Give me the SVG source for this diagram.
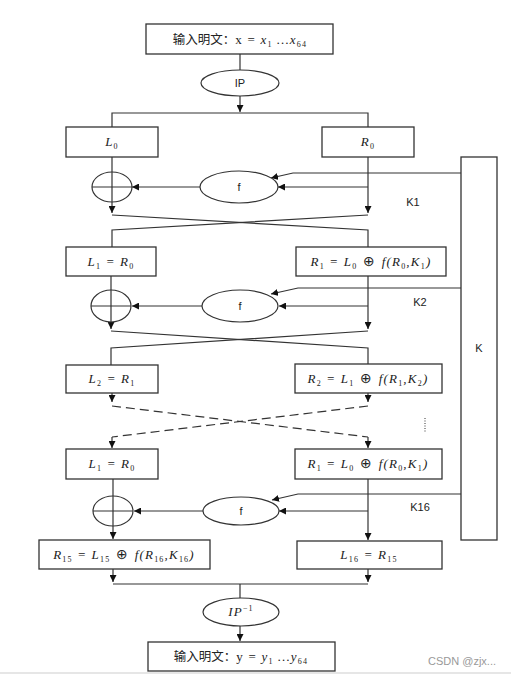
<svg xmlns="http://www.w3.org/2000/svg" width="511" height="676" viewBox="0 0 511 676">
<defs>
<marker id="ah" viewBox="0 0 8 8" refX="8" refY="4" markerWidth="7" markerHeight="7" markerUnits="userSpaceOnUse" orient="auto"><path d="M0,0 L8,4 L0,8 z" fill="#111"/></marker>
<style>
.b{fill:#fff;stroke:#333;stroke-width:1.3}
.e{fill:#fff;stroke:#333;stroke-width:1.2}
.x{fill:none;stroke:#333;stroke-width:1.2}
.c{fill:none;stroke:#333;stroke-width:1.2}
.a{marker-end:url(#ah)}
.d{stroke-dasharray:9,5}
.m{font-family:"Liberation Serif","DejaVu Serif",serif;font-style:italic;font-size:13px;fill:#222;text-anchor:middle;letter-spacing:1.2px}
.s{font-family:"Liberation Sans",Arial,sans-serif;font-size:11px;fill:#222;text-anchor:middle}
.z{font-size:8px;font-style:normal}
.u{font-style:normal}
.o{font-family:"DejaVu Sans",sans-serif;font-style:normal;font-size:14px}
.cj{font-family:"Noto Sans CJK SC","Liberation Sans",sans-serif;font-style:normal;font-size:12.5px;letter-spacing:0}
</style>
</defs>
<rect width="511" height="676" fill="#fff"/>
<line x1="0" y1="673" x2="511" y2="673" stroke="#e6e6e6" stroke-width="2"/>

<g id="connectors">
<line class="c" x1="240" y1="54" x2="240" y2="70"/>
<line class="c a" x1="240" y1="96" x2="240" y2="112"/>
<polyline class="c" points="112,127 112,113 368,113 368,127"/>
<line class="c a" x1="112" y1="157" x2="112" y2="213"/>
<line class="c a" x1="368" y1="157" x2="368" y2="213"/>
<line class="c a" x1="368" y1="187" x2="278" y2="187"/>
<line class="c a" x1="200" y1="187" x2="132" y2="187"/>
<polyline class="c a" points="461,173 293,173 271,178"/>
<polyline class="c" points="112,215 368,230 368,247"/>
<polyline class="c" points="368,215 112,230 112,247"/>

<line class="c a" x1="111" y1="276" x2="111" y2="329"/>
<line class="c a" x1="368" y1="276" x2="368" y2="329"/>
<line class="c a" x1="368" y1="306" x2="279" y2="306"/>
<line class="c a" x1="202" y1="306" x2="132" y2="306"/>
<polyline class="c a" points="461,288 298,288 271,294"/>
<polyline class="c" points="111,331 368,348 368,365"/>
<polyline class="c" points="368,331 111,348 111,365"/>

<line class="c a" x1="112" y1="393" x2="112" y2="402"/>
<line class="c a" x1="368" y1="393" x2="368" y2="402"/>
<polyline class="c d" points="112,406 368,437"/>
<polyline class="c d" points="368,406 112,437"/>
<line class="c a" x1="112" y1="437" x2="112" y2="448"/>
<line class="c a" x1="368" y1="437" x2="368" y2="448"/>
<line x1="425" y1="418" x2="425" y2="433" stroke="#333" stroke-width="1" stroke-dasharray="1,1.5"/>

<line class="c a" x1="113" y1="479" x2="113" y2="539"/>
<line class="c a" x1="368" y1="479" x2="368" y2="540"/>
<line class="c a" x1="368" y1="511" x2="279" y2="511"/>
<line class="c a" x1="203" y1="511" x2="134" y2="511"/>
<polyline class="c a" points="461,494 298,494 272,500"/>

<line class="c a" x1="113" y1="569" x2="113" y2="582"/>
<line class="c a" x1="368" y1="569" x2="368" y2="582"/>
<line class="c" x1="113" y1="584" x2="368" y2="584"/>
<line class="c" x1="240" y1="584" x2="240" y2="598"/>
<line class="c a" x1="240" y1="626" x2="240" y2="641"/>
</g>

<g id="input">
<rect class="b" x="146" y="24" width="187" height="30"/>
<text class="m" x="240" y="44"><tspan class="cj">输入明文：</tspan><tspan class="u">x = </tspan>x<tspan class="z" dy="3">1</tspan><tspan dy="-3"> …x</tspan><tspan class="z" dy="3">64</tspan></text>
</g>
<g id="ip">
<ellipse class="e" cx="240" cy="83" rx="39" ry="13"/>
<text class="s" x="240" y="87">IP</text>
</g>
<g id="L0">
<rect class="b" x="66" y="127" width="92" height="30"/>
<text class="m" x="112" y="146">L<tspan class="z" dy="3">0</tspan></text>
</g>
<g id="R0">
<rect class="b" x="322" y="127" width="92" height="30"/>
<text class="m" x="368" y="146">R<tspan class="z" dy="3">0</tspan></text>
</g>
<g id="xor1">
<ellipse class="x" cx="112" cy="187" rx="20" ry="15"/>
<line class="x" x1="92" y1="187" x2="132" y2="187"/>
</g>
<g id="f1">
<ellipse class="e" cx="239" cy="187" rx="39" ry="16"/>
<text class="s" x="239" y="191">f</text>
</g>
<g id="K"><rect class="b" x="461" y="157" width="36" height="383"/>
<text class="s" x="479" y="352">K</text></g>
<text class="s" x="413" y="206">K1</text>

<g id="L1">
<rect class="b" x="66" y="247" width="90" height="29"/>
<text class="m" x="111" y="266">L<tspan class="z" dy="3">1</tspan><tspan dy="-3"> = R</tspan><tspan class="z" dy="3">0</tspan></text>
</g>
<g id="R1">
<rect class="b" x="296" y="247" width="150" height="29"/>
<text class="m" x="371" y="266">R<tspan class="z" dy="3">1</tspan><tspan dy="-3"> = L</tspan><tspan class="z" dy="3">0</tspan><tspan dy="-3" class="o"> ⊕ </tspan><tspan>f(R</tspan><tspan class="z" dy="3">0</tspan><tspan dy="-3">,K</tspan><tspan class="z" dy="3">1</tspan><tspan dy="-3">)</tspan></text>
</g>
<g id="xor2">
<ellipse class="x" cx="111" cy="306" rx="20" ry="16"/>
<line class="x" x1="91" y1="306" x2="131" y2="306"/>
</g>
<g id="f2">
<ellipse class="e" cx="240" cy="306" rx="38" ry="16"/>
<text class="s" x="240" y="310">f</text>
</g>
<text class="s" x="420" y="306">K2</text>

<g id="L2">
<rect class="b" x="66" y="365" width="92" height="28"/>
<text class="m" x="112" y="383">L<tspan class="z" dy="3">2</tspan><tspan dy="-3"> = R</tspan><tspan class="z" dy="3">1</tspan></text>
</g>
<g id="R2">
<rect class="b" x="295" y="364" width="147" height="29"/>
<text class="m" x="368" y="383">R<tspan class="z" dy="3">2</tspan><tspan dy="-3"> = L</tspan><tspan class="z" dy="3">1</tspan><tspan dy="-3" class="o"> ⊕ </tspan><tspan>f(R</tspan><tspan class="z" dy="3">1</tspan><tspan dy="-3">,K</tspan><tspan class="z" dy="3">2</tspan><tspan dy="-3">)</tspan></text>
</g>

<g id="L1b">
<rect class="b" x="66" y="449" width="92" height="30"/>
<text class="m" x="112" y="468">L<tspan class="z" dy="3">1</tspan><tspan dy="-3"> = R</tspan><tspan class="z" dy="3">0</tspan></text>
</g>
<g id="R1b">
<rect class="b" x="295" y="449" width="147" height="30"/>
<text class="m" x="368" y="468">R<tspan class="z" dy="3">1</tspan><tspan dy="-3"> = L</tspan><tspan class="z" dy="3">0</tspan><tspan dy="-3" class="o"> ⊕ </tspan><tspan>f(R</tspan><tspan class="z" dy="3">0</tspan><tspan dy="-3">,K</tspan><tspan class="z" dy="3">1</tspan><tspan dy="-3">)</tspan></text>
</g>
<g id="xor3">
<ellipse class="x" cx="113" cy="511" rx="20" ry="15"/>
<line class="x" x1="93" y1="511" x2="133" y2="511"/>
</g>
<g id="f3">
<ellipse class="e" cx="241" cy="511" rx="38" ry="14"/>
<text class="s" x="241" y="515">f</text>
</g>
<text class="s" x="420" y="511">K16</text>

<g id="R15">
<rect class="b" x="39" y="540" width="171" height="29"/>
<text class="m" x="124" y="559">R<tspan class="z" dy="3">15</tspan><tspan dy="-3"> = L</tspan><tspan class="z" dy="3">15</tspan><tspan dy="-3" class="o"> ⊕ </tspan><tspan>f(R</tspan><tspan class="z" dy="3">16</tspan><tspan dy="-3">,K</tspan><tspan class="z" dy="3">16</tspan><tspan dy="-3">)</tspan></text>
</g>
<g id="L16">
<rect class="b" x="297" y="541" width="145" height="28"/>
<text class="m" x="369" y="559">L<tspan class="z" dy="3">16</tspan><tspan dy="-3"> = R</tspan><tspan class="z" dy="3">15</tspan></text>
</g>
<g id="ipinv">
<ellipse class="e" cx="241" cy="612" rx="38" ry="14"/>
<text class="m" x="241" y="616">IP<tspan class="z" dy="-5">−1</tspan></text>
</g>
<g id="output">
<rect class="b" x="148" y="642" width="187" height="29"/>
<text class="m" x="241" y="661"><tspan class="cj">输入明文：</tspan><tspan class="u">y = </tspan>y<tspan class="z" dy="3">1</tspan><tspan dy="-3"> …y</tspan><tspan class="z" dy="3">64</tspan></text>
</g>
<text x="462" y="665" font-family="'Liberation Sans',Arial,sans-serif" font-size="11" fill="#999" text-anchor="middle">CSDN @zjx...</text>
</svg>
